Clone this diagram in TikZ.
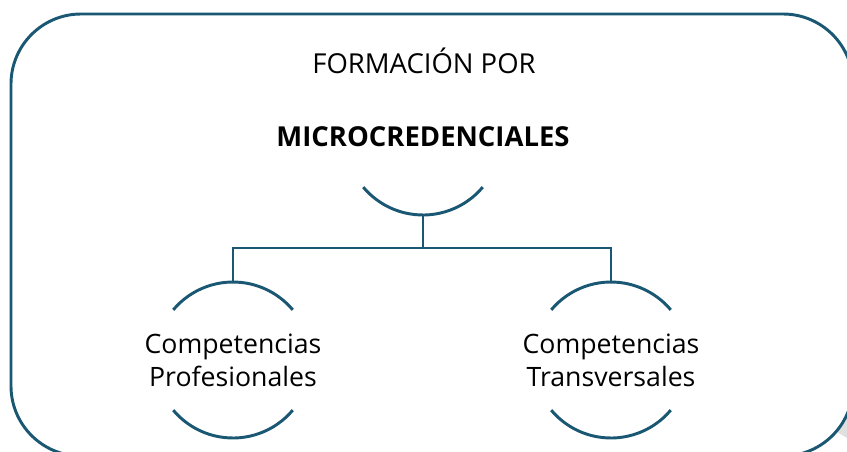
\documentclass[tikz,border=0pt]{standalone}
\usepackage{fontspec}
\setmainfont{Open Sans}
\definecolor{azulrama}{RGB}{25,87,115}
\tikzset{
  rama/.style={draw=azulrama, line width=2.2pt},
  rotulo/.style={font=\fontsize{20}{24.75}\selectfont, align=center, inner sep=0pt},
  titular/.style={rotulo, font=\fontsize{20.6}{24.75}\selectfont},
  titularbf/.style={rotulo, font=\fontsize{20.6}{24.75}\selectfont\bfseries},
}

\begin{document}
\begin{tikzpicture}[x=0.75pt,y=0.75pt,yscale=-1,xscale=1]
\useasboundingbox (0,0) rectangle (847,451);
\clip (0,0) rectangle (847,451);

%Shadow
\fill[black!12] (832,429) -- (847,438) -- (847,410) -- cycle;
%Rounded Rect
\draw[rama, fill=white, rounded corners=52.5pt] (11,14) rectangle (853,456);

% Text Node
\node[titular, anchor=base] (titulo) at (424,73) {FORMACIÓN POR};
% Text Node
\node[titularbf] (micro) at (423,137) {MICROCREDENCIALES};
% Text Node
\node[rotulo] (prof) at (233,360) {Competencias\\Profesionales};
% Text Node
\node[rotulo] (trans) at (611,360) {Competencias\\Transversales};

%Arcs
\draw[rama] ([shift={(40:78)}]micro.center) arc (40:140:78);
\draw[rama] ([shift={(220:78)}]prof.center) arc (220:320:78);
\draw[rama] ([shift={(40:78)}]prof.center) arc (40:140:78);
\draw[rama] ([shift={(220:78)}]trans.center) arc (220:320:78);
\draw[rama] ([shift={(40:78)}]trans.center) arc (40:140:78);

%Straight Lines
\path ([shift={(90:78)}]micro.center) ++(0,33) coordinate (junta);
\draw[rama] ([shift={(90:78)}]micro.center) -- (junta);
\draw[rama] ([shift={(270:78)}]prof.center) |- (junta) -| ([shift={(270:78)}]trans.center);

\end{tikzpicture}
\end{document}
